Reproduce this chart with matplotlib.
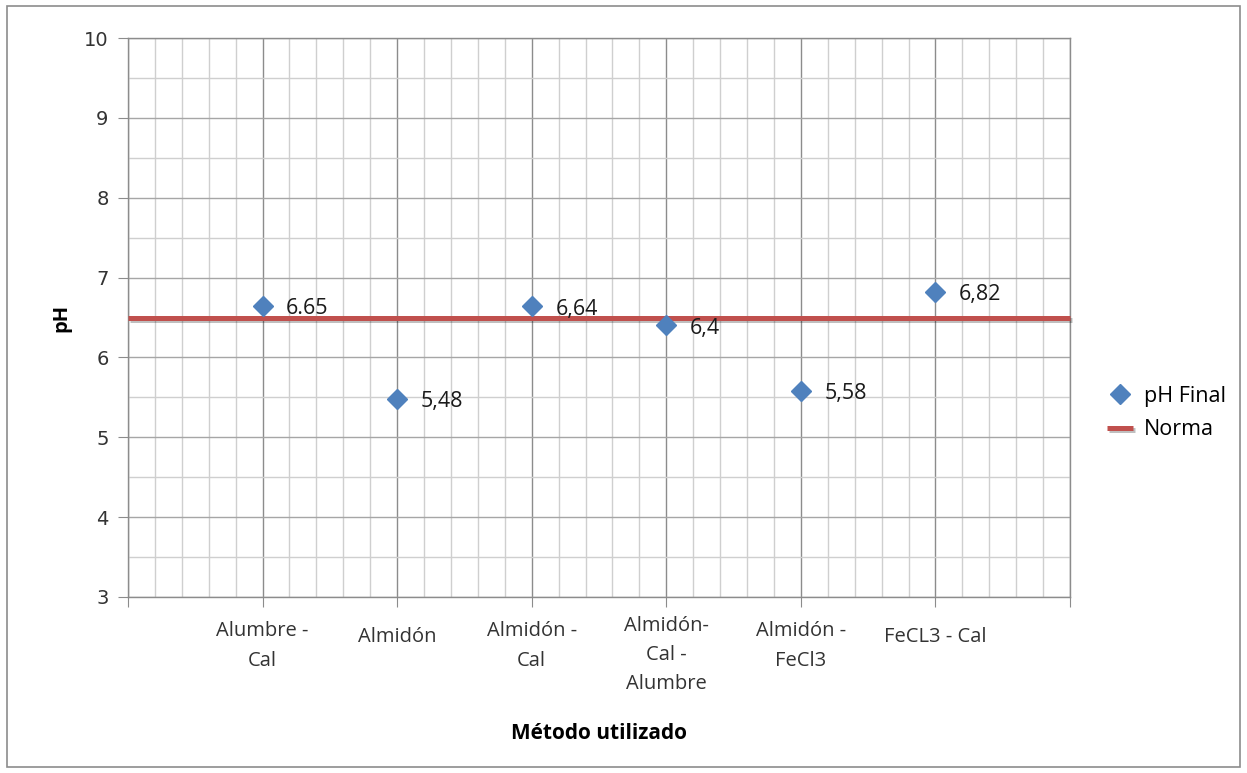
import numpy as np
import matplotlib.pyplot as plt
import matplotlib.patheffects as pe
import matplotlib.transforms as mtransforms
from matplotlib.patches import Rectangle
from matplotlib.ticker import MultipleLocator

# -----------------------------
# Data
# -----------------------------
metodos = ["Alumbre -\nCal", "Almidón", "Almidón -\nCal", "Almidón-\nCal -\nAlumbre",
           "Almidón -\nFeCl3", "FeCL3 - Cal"]
ph_final = [6.65, 5.48, 6.64, 6.4, 5.58, 6.82]
etiquetas = ["6.65", "5,48", "6,64", "6,4", "5,58", "6,82"]
norma_x = [0, 7]
norma_y = [6.5, 6.5]

plt.rcParams['font.family'] = ['Open Sans', 'DejaVu Sans']

fig = plt.figure(figsize=(12.47, 7.73), dpi=100)
ax = fig.add_axes([128 / 1247, 1 - 597 / 773, (1070 - 128) / 1247, (597 - 38) / 773])

x = np.arange(1, len(metodos) + 1)

# grid
ax.set_xlim(0, 7)
ax.set_ylim(3, 10)
ax.xaxis.set_major_locator(MultipleLocator(1))
ax.xaxis.set_minor_locator(MultipleLocator(0.2))
ax.yaxis.set_major_locator(MultipleLocator(1))
ax.yaxis.set_minor_locator(MultipleLocator(0.5))
ax.grid(which='major', axis='x', color='#8c8c8c', linewidth=1.0)
ax.grid(which='major', axis='y', color='#a6a6a6', linewidth=1.0)
ax.grid(which='minor', color='#cfcfcf', linewidth=1.0)
ax.set_axisbelow(True)
for s in ax.spines.values():
    s.set_color('#8c8c8c')
    s.set_linewidth(1.0)

# norma line
ax.plot(norma_x, norma_y, color='#c0504d', linewidth=3.6, solid_capstyle='butt',
        label='Norma', zorder=3, clip_on=False,
        path_effects=[pe.SimpleLineShadow(offset=(1.5, -1.5), alpha=0.25), pe.Normal()])

# points
ax.plot(x, ph_final, linestyle='none', marker='D', markersize=10.5, color='#4f81bd',
        label='pH Final', zorder=4)
for xi, yi, t in zip(x, ph_final, etiquetas):
    ax.annotate(t, (xi, yi), xytext=(17, -2), textcoords='offset points',
                ha='left', va='center', fontsize=15.5, color='#1a1a1a', zorder=5)

# ticks (category labels drawn as text, centred a bit lower for longer labels)
ax.set_xticks(np.arange(0, 8))
ax.set_xticklabels([])
ax.tick_params(axis='x', which='major', length=7, color='#8c8c8c')
ax.tick_params(axis='y', which='major', length=7, color='#8c8c8c', pad=7, labelsize=14,
               labelcolor='#333333')
ax.tick_params(which='minor', length=0)
for lbl in ax.get_yticklabels():
    lbl.set_fontfamily('DejaVu Sans')

for xi, m in zip(x, metodos):
    n = m.count("\n") + 1
    off = mtransforms.ScaledTranslation(0, -(40 + 9 * (n - 1)) / 100, fig.dpi_scale_trans)
    ax.text(xi, 0, m, transform=ax.get_xaxis_transform() + off, ha='center', va='center',
            fontsize=14.5, color='#333333', linespacing=1.6, multialignment='center')

ax.set_xlabel("Método utilizado", fontsize=15, fontweight='bold', labelpad=80)
ax.set_ylabel("pH", fontsize=14.5, fontweight='bold', labelpad=9)

# legend
handles, labels = ax.get_legend_handles_labels()
leg = fig.legend(handles[::-1], labels[::-1], loc='center left',
                 bbox_to_anchor=(1088 / 1247, 1 - 413 / 773), frameon=False,
                 fontsize=15.5, handlelength=1.2, handletextpad=0.5, labelspacing=0.6)

# outer frame
fig.patches.append(Rectangle((7 / 1247, 6 / 773), (1240 - 7) / 1247, (767 - 6) / 773,
                             transform=fig.transFigure, fill=False,
                             edgecolor='#8c8c8c', linewidth=1.2))

fig.savefig("out.png", dpi=100)
